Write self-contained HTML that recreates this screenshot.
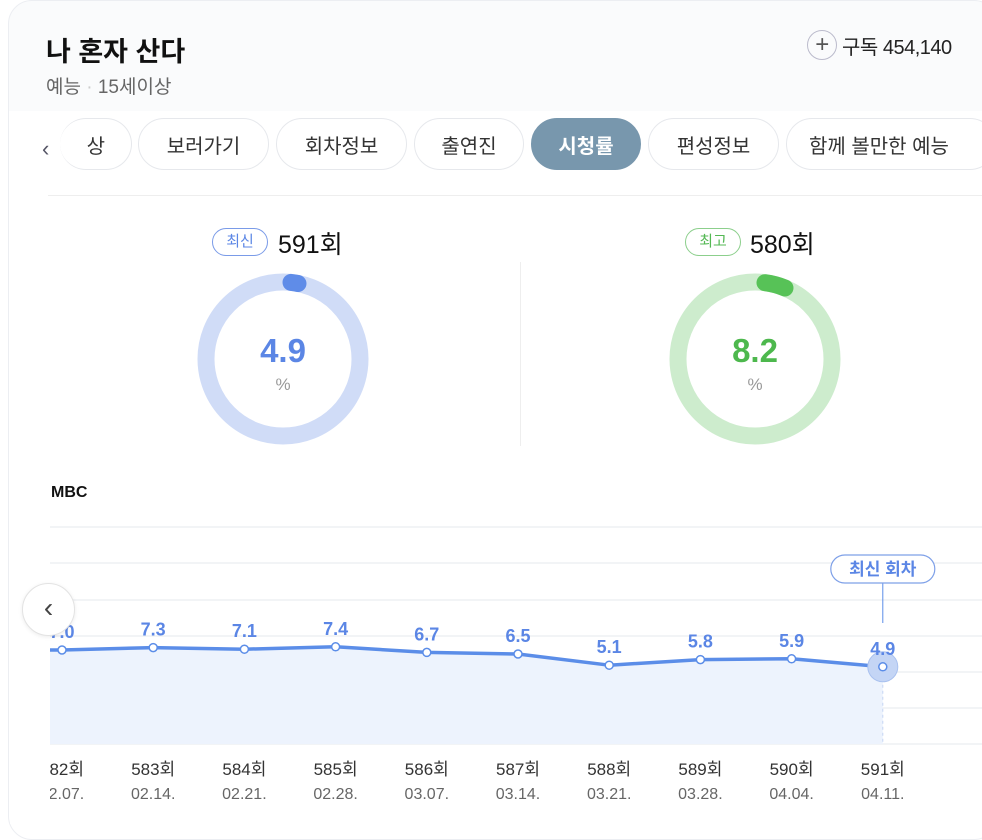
<!DOCTYPE html>
<html><head><meta charset="utf-8">
<style>
*{box-sizing:border-box;margin:0;padding:0}
body{width:982px;height:824px;overflow:hidden;background:#fff;font-family:"Liberation Sans","Noto Sans CJK KR",sans-serif;position:relative}
.card{position:absolute;left:8px;top:0;width:990px;height:840px;border:1px solid #eceef2;border-radius:24px;background:linear-gradient(#fafbfc 0,#fafbfc 110px,#fff 110px)}
.abs{position:absolute}
.tab{position:absolute;top:118px;height:52px;border:1px solid #e6e8ec;border-radius:26px;font-size:20px;color:#333;display:flex;align-items:center;justify-content:center;background:#fff}
</style></head><body>
<div class="card"></div>
<div class="abs" style="left:46px;top:30px;font-size:27px;font-weight:bold;color:#111">나 혼자 산다</div>
<div class="abs" style="left:46px;top:72px;font-size:19px;color:#666">예능 <span style="color:#ccc">·</span> 15세이상</div>
<div class="abs" style="left:807px;top:30px;font-size:20px;color:#222;display:flex;align-items:center;gap:5px;letter-spacing:-0.5px"><span style="display:inline-block;width:30px;height:30px;border:1px solid #bbc;border-radius:50%;text-align:center;line-height:27px;font-size:24px;color:#555">+</span>구독 454,140</div>
<div class="abs" style="left:42px;top:136px;font-size:22px;color:#556">&#x2039;</div>
<div class="tab" style="left:60px;width:72px;border-left:none;justify-content:flex-end;padding-right:26px">상</div>
<div class="tab" style="left:138px;width:131px">보러가기</div>
<div class="tab" style="left:276px;width:131px">회차정보</div>
<div class="tab" style="left:414px;width:110px">출연진</div>
<div class="tab" style="left:531px;width:110px;background:#7897ad;color:#fff;font-weight:bold;border-color:#7897ad">시청률</div>
<div class="tab" style="left:648px;width:131px">편성정보</div>
<div class="tab" style="left:786px;width:210px;justify-content:flex-start;padding-left:22px">함께 볼만한 예능</div>
<div class="abs" style="left:48px;top:195px;width:934px;height:1px;background:#eee"></div>
<div class="abs" style="left:520px;top:262px;width:1px;height:184px;background:#eee"></div>

<div class="abs" style="left:212px;top:228px;width:56px;height:28px;border:1px solid #7a9be8;border-radius:14px;color:#5b86e5;font-size:15px;text-align:center;line-height:26px">최신</div>
<div class="abs" style="left:278px;top:225px;font-size:25px;color:#111">591회</div>
<div class="abs" style="left:685px;top:228px;width:56px;height:28px;border:1px solid #8ccf8c;border-radius:14px;color:#54b854;font-size:15px;text-align:center;line-height:26px">최고</div>
<div class="abs" style="left:750px;top:225px;font-size:25px;color:#111">580회</div>

<svg class="abs" style="left:0;top:0" width="982" height="824">
<circle cx="283" cy="359" r="77" fill="none" stroke="#d0dcf7" stroke-width="17"/>
<path d="M291,282.4 A77,77 0 0 1 298,283.5" fill="none" stroke="#5f8ce8" stroke-width="17" stroke-linecap="round"/>
<text x="283" y="362" text-anchor="middle" font-size="33" font-weight="bold" fill="#5b86e5" font-family="Liberation Sans,sans-serif">4.9</text>
<text x="283" y="390" text-anchor="middle" font-size="17" fill="#999">%</text>
<circle cx="755" cy="359" r="77" fill="none" stroke="#cdeccd" stroke-width="17"/>
<path d="M765,282.7 A77,77 0 0 1 785,288" fill="none" stroke="#57c257" stroke-width="17" stroke-linecap="round"/>
<text x="755" y="362" text-anchor="middle" font-size="33" font-weight="bold" fill="#4db84d" font-family="Liberation Sans,sans-serif">8.2</text>
<text x="755" y="390" text-anchor="middle" font-size="17" fill="#999">%</text>
</svg>

<div class="abs" style="left:51px;top:484px;font-size:16px;font-weight:bold;color:#111">MBC</div>
<svg id="chart" class="abs" style="left:0;top:0" width="982" height="824"></svg>
<div class="abs" style="left:22px;top:583px;width:53px;height:53px;border:1px solid #e3e3e3;border-radius:50%;background:#fff;box-shadow:0 1px 4px rgba(0,0,0,.08);text-align:center;line-height:48px;font-size:28px;color:#444">&#x2039;</div>

<script>
const episodes=["582회","583회","584회","585회","586회","587회","588회","589회","590회","591회"];
const dates=["02.07.","02.14.","02.21.","02.28.","03.07.","03.14.","03.21.","03.28.","04.04.","04.11."];
const ratings=[7.0,7.3,7.1,7.4,6.7,6.5,5.1,5.8,5.9,4.9];
const gridY=[527,563,600,636,672,708,744];
const NS="http://www.w3.org/2000/svg";
const svg=document.getElementById('chart');
function xS(i){return 62+i*91.2;}
function yS(v){return 706-8*v;}
function mk(t,a){const e=document.createElementNS(NS,t);for(const k in a)e.setAttribute(k,a[k]);svg.appendChild(e);return e;}
gridY.forEach((g)=>{const l=mk('line',{x1:50,x2:982,y1:g,y2:g,stroke:'#eef0f3','stroke-width':1.5});

});
let pts=ratings.map((v,i)=>xS(i)+','+yS(v));
const base=744;
const area=mk('polygon',{points:'50,'+yS(ratings[0])+' '+pts.join(' ')+' '+xS(ratings.length-1)+','+base+' 50,'+base,fill:'#edf3fd'});


const last=ratings.length-1;
const dl=mk('line',{x1:xS(last),x2:xS(last),y1:yS(ratings[last]),y2:base,stroke:'#c5d5f3','stroke-dasharray':'3,3'});


const line=mk('polyline',{points:'50,'+yS(ratings[0])+' '+pts.join(' '),fill:'none',stroke:'#5b8de8','stroke-width':3.5,'stroke-linejoin':'round'});


const halo=mk('circle',{cx:xS(last),cy:yS(ratings[last]),r:15,fill:'#c4d5f5',stroke:'#a9c1ef','stroke-width':1});


ratings.forEach((v,i)=>{
 const c=mk('circle',{cx:xS(i),cy:yS(v),r:4,fill:'#fff',stroke:'#5b8de8','stroke-width':1.5});
 
 
 const t=mk('text',{x:xS(i),y:yS(v)-12,'text-anchor':'middle','font-size':18,'font-weight':'bold',fill:'#5b86e5'});
 t.textContent=v.toFixed(1);
 
 
 const e=mk('text',{x:xS(i),y:775,'text-anchor':'middle','font-size':17,fill:'#333'});
 e.textContent=episodes[i];
 
 
 const d=mk('text',{x:xS(i),y:799,'text-anchor':'middle','font-size':16,fill:'#666'});
 d.textContent=dates[i];
 
 
});
const cl=mk('line',{x1:xS(last),x2:xS(last),y1:583,y2:623,stroke:'#5b8de8','stroke-width':1});


const cb=mk('rect',{x:xS(last)-52,y:555,width:104,height:28,rx:14,fill:'#fff',stroke:'#7ea0e8','stroke-width':1.2});


const ct=mk('text',{x:xS(last),y:575,'text-anchor':'middle','font-size':17,'font-weight':'bold',fill:'#5b86e5'});
ct.textContent='최신 회차';


const cover=mk('rect',{x:10,y:500,width:40,height:324,fill:'#fff'});


</script>
</body></html>
